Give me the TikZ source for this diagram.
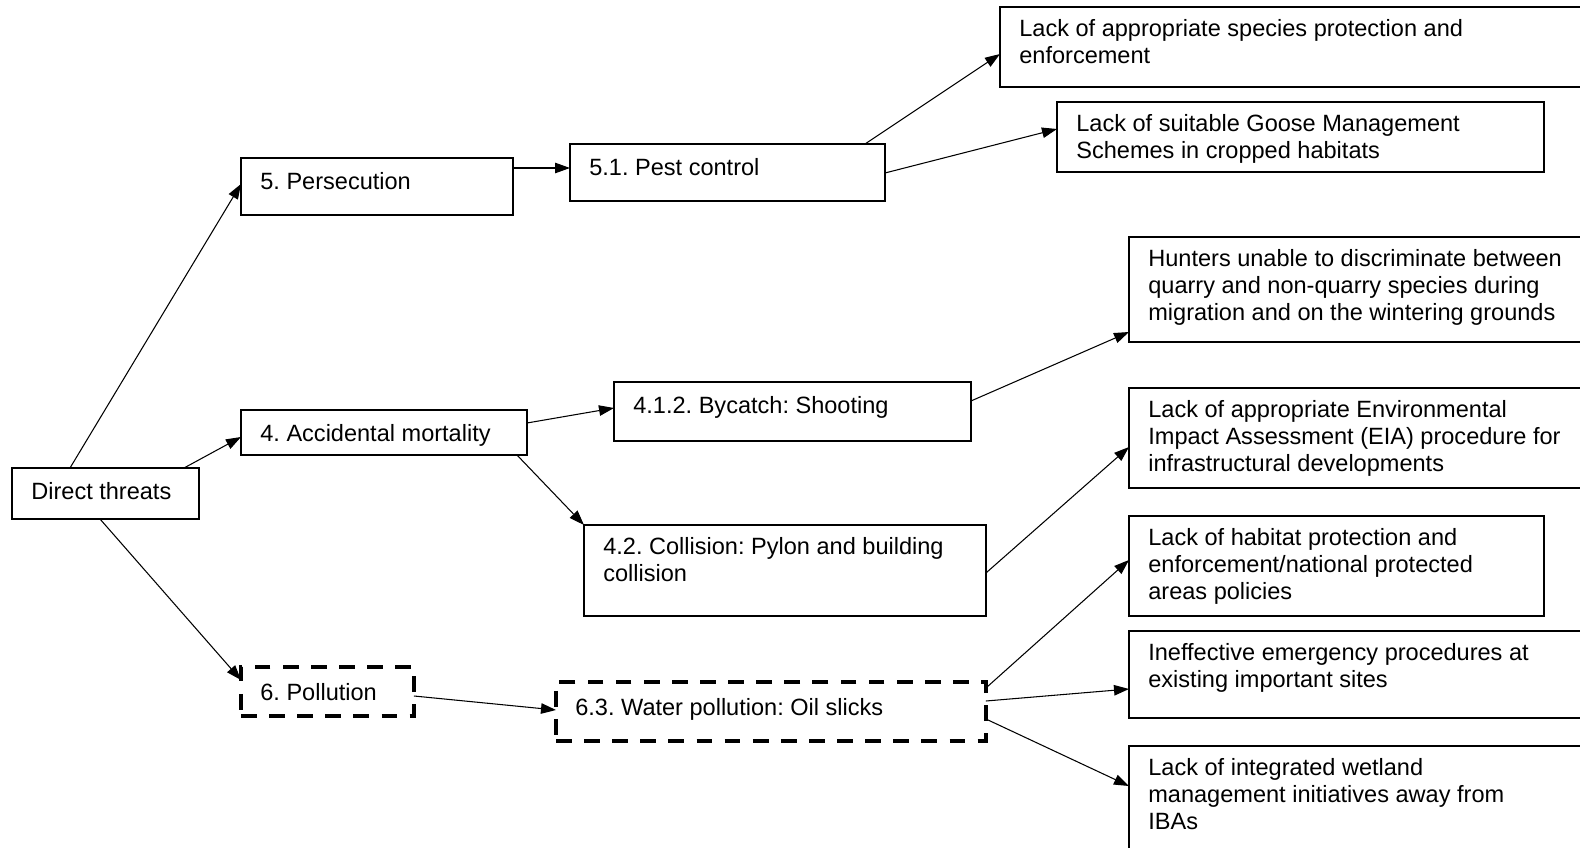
\documentclass[tikz,border=0pt]{standalone}
\usepackage{fontspec}
\setmainfont{Liberation Sans}
\frenchspacing
\usepackage{tikz}
\usetikzlibrary{arrows.meta,positioning,calc}
\tikzset{box/.style={draw, line width=0.75pt, rectangle, inner sep=0pt, outer sep=0pt, anchor=north west},
         dbox/.style={box, line width=2pt, dash pattern=on 9pt off 7pt},
         txt/.style={anchor=north west, align=left, inner xsep=0.38cm, inner ysep=0.24cm,
                     font=\fontsize{13.4}{15.5}\selectfont, execute at begin node=\strut},
         arr/.style={-{Triangle[length=0.3cm,width=0.21cm]}, line width=0.6pt}}

\begin{document}
\begin{tikzpicture}[x=0.02cm, y=-0.02cm]
\useasboundingbox (0,0) rectangle (1580,848);

% first level
\node[box, minimum width=3.74cm, minimum height=1.02cm] (dt) at (12,468) {};
\node[box, minimum width=5.44cm, minimum height=1.14cm] (pers) at (241,158) {};
\node[box, minimum width=5.72cm, minimum height=0.9cm] (acc) at (241,410) {};
\node[dbox, minimum width=3.46cm, minimum height=0.98cm] (pol) at (241,667) {};

% second level
\node[box, minimum width=6.3cm, minimum height=1.14cm] (pest) at (570,144) {};
\node[box, minimum width=7.14cm, minimum height=1.18cm] (byc) at (614,382) {};
\node[box, minimum width=8.04cm, minimum height=1.82cm] (col) at (584,525) {};
\node[dbox, minimum width=8.6cm, minimum height=1.18cm] (wat) at (556,682) {};

% root causes
\node[box, minimum width=11.64cm, minimum height=1.6cm] (spec) at (1000,7) {};
\node[box, minimum width=9.74cm, minimum height=1.4cm] (goose) at (1057,102) {};
\node[box, minimum width=9.06cm, minimum height=2.1cm] (hunt) at (1129,237) {};
\node[box, minimum width=9.06cm, minimum height=2.0cm] (eia) at (1129,388) {};
\node[box, minimum width=8.3cm, minimum height=2.0cm] (habit) at (1129,516) {};
\node[box, minimum width=9.06cm, minimum height=1.74cm] (emerg) at (1129,631) {};
\node[box, minimum width=9.06cm, minimum height=2.28cm] (wetl) at (1129,746) {};

\node[txt] at (dt.north west) {Direct threats};
\node[txt] at (pers.north west) {5. Persecution};
\node[txt] at (acc.north west) {4. Accidental mortality};
\node[txt] at ($(pol.north west)+(0,2)$) {6. Pollution};
\node[txt] at (pest.north west) {5.1. Pest control};
\node[txt] at (byc.north west) {4.1.2. Bycatch: Shooting};
\node[txt] at (col.north west) {4.2. Collision: Pylon and building\\collision};
\node[txt] at ($(wat.north west)+(0,2)$) {6.3. Water pollution: Oil slicks};
\node[txt] at (spec.north west) {Lack of appropriate species protection and\\enforcement};
\node[txt] at (goose.north west) {Lack of suitable Goose Management\\Schemes in cropped habitats};
\node[txt] at (hunt.north west) {Hunters unable to discriminate between\\quarry and non-quarry species during\\migration and on the wintering grounds};
\node[txt] at (eia.north west) {Lack of appropriate Environmental\\Impact Assessment (EIA) procedure for\\infrastructural developments};
\node[txt] at (habit.north west) {Lack of habitat protection and\\enforcement/national protected\\areas policies};
\node[txt] at (emerg.north west) {Ineffective emergency procedures at\\existing important sites};
\node[txt] at (wetl.north west) {Lack of integrated wetland\\management initiatives away from\\IBAs};

% arrows
\draw[arr] ($(dt.north west)+(58,0)$) -- ($(pers.north west)+(0,26)$);
\draw[arr] ($(dt.north west)+(172,0)$) -- ($(acc.north west)+(0,27)$);
\draw[arr] ($(dt.south west)+(88,0)$) -- ($(pol.north west)+(0,13)$);
\draw[arr] ($(pers.north east)+(0,10)$) -- ($(pest.north west)+(0,24)$);
\draw[arr] ($(pest.north west)+(295,0)$) -- ($(spec.north west)+(0,47)$);
\draw[arr] ($(pest.north east)+(0,29)$) -- ($(goose.north west)+(0,27)$);
\draw[arr] ($(acc.north east)+(0,13)$) -- ($(byc.north west)+(0,26)$);
\draw[arr] ($(acc.south east)+(-10,0)$) -- (col.north west);
\draw[arr] ($(byc.north east)+(0,19)$) -- ($(hunt.north west)+(0,95)$);
\draw[arr] ($(col.north east)+(0,48)$) -- ($(eia.north west)+(0,59)$);
\draw[arr] ($(pol.north east)+(0,29)$) -- ($(wat.north west)+(0,28)$);
\draw[arr] ($(wat.north east)+(0,6)$) -- ($(habit.north west)+(0,44)$);
\draw[arr] ($(wat.north east)+(0,19)$) -- ($(emerg.north west)+(0,58)$);
\draw[arr] ($(wat.north east)+(0,37)$) -- ($(wetl.north west)+(0,40)$);
\end{tikzpicture}
\end{document}
